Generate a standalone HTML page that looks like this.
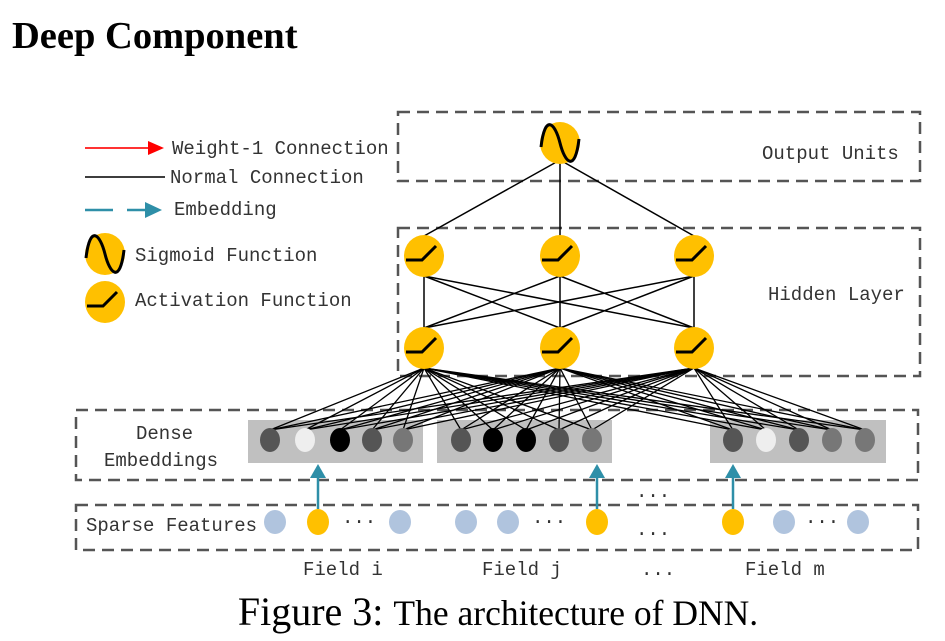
<!DOCTYPE html>
<html><head><meta charset="utf-8"><style>
html,body{margin:0;padding:0;background:#fff}
svg{display:block}
.m{font-family:"Liberation Mono",monospace;font-size:19px;fill:#333}
</style></head><body>
<svg width="945" height="641" viewBox="0 0 945 641" xmlns="http://www.w3.org/2000/svg">
<defs>
<g id="act"><ellipse cx="0" cy="0" rx="20" ry="21" fill="#FFC000"/><path d="M-18 4 H-2 L12 -10" stroke="#000" stroke-width="3" fill="none"/></g>
<g id="sig"><ellipse cx="0" cy="0" rx="20" ry="21" fill="#FFC000"/><path d="M-19 4 C-15 -30 -5 -20 0 0 C5 20 15 30 19 -4" stroke="#000" stroke-width="3" fill="none"/></g>
</defs>
<text x="12" y="48" font-family="Liberation Serif,serif" font-weight="bold" font-size="38.5">Deep Component</text>
<g fill="none" stroke="#555" stroke-width="2.5" stroke-dasharray="12,7">
<rect x="398" y="112" width="522" height="69"/>
<rect x="398" y="228" width="522" height="148"/>
<rect x="76" y="410" width="842" height="70"/>
<rect x="76" y="505" width="842" height="45"/>
</g>
<text class="m" x="762" y="159">Output Units</text>
<text class="m" x="768" y="300">Hidden Layer</text>
<text class="m" x="136" y="439">Dense</text>
<text class="m" x="104" y="466">Embeddings</text>
<text class="m" x="86" y="531">Sparse Features</text>
<rect x="248" y="420" width="175" height="43" fill="#c0c0c0"/>
<rect x="437" y="420" width="175" height="43" fill="#c0c0c0"/>
<rect x="710" y="420" width="176" height="43" fill="#c0c0c0"/>
<g stroke="#000" stroke-width="1.5">
<line x1="560" y1="160" x2="424" y2="236"/><line x1="560" y1="160" x2="560" y2="236"/><line x1="560" y1="160" x2="694" y2="236"/>
</g>
<g stroke="#000" stroke-width="1.5">
<line x1="424" y1="276" x2="424" y2="328"/><line x1="424" y1="276" x2="560" y2="328"/><line x1="424" y1="276" x2="694" y2="328"/>
<line x1="560" y1="276" x2="424" y2="328"/><line x1="560" y1="276" x2="560" y2="328"/><line x1="560" y1="276" x2="694" y2="328"/>
<line x1="694" y1="276" x2="424" y2="328"/><line x1="694" y1="276" x2="560" y2="328"/><line x1="694" y1="276" x2="694" y2="328"/>
</g>
<g stroke="#000" stroke-width="1.3">
<line x1="424" y1="368" x2="270" y2="430"/><line x1="424" y1="368" x2="305" y2="430"/><line x1="424" y1="368" x2="340" y2="430"/><line x1="424" y1="368" x2="372" y2="430"/><line x1="424" y1="368" x2="403" y2="430"/><line x1="424" y1="368" x2="461" y2="430"/><line x1="424" y1="368" x2="493" y2="430"/><line x1="424" y1="368" x2="526" y2="430"/><line x1="424" y1="368" x2="559" y2="430"/><line x1="424" y1="368" x2="592" y2="430"/><line x1="424" y1="368" x2="733" y2="430"/><line x1="424" y1="368" x2="766" y2="430"/><line x1="424" y1="368" x2="799" y2="430"/><line x1="424" y1="368" x2="832" y2="430"/><line x1="424" y1="368" x2="865" y2="430"/>
<line x1="560" y1="368" x2="270" y2="430"/><line x1="560" y1="368" x2="305" y2="430"/><line x1="560" y1="368" x2="340" y2="430"/><line x1="560" y1="368" x2="372" y2="430"/><line x1="560" y1="368" x2="403" y2="430"/><line x1="560" y1="368" x2="461" y2="430"/><line x1="560" y1="368" x2="493" y2="430"/><line x1="560" y1="368" x2="526" y2="430"/><line x1="560" y1="368" x2="559" y2="430"/><line x1="560" y1="368" x2="592" y2="430"/><line x1="560" y1="368" x2="733" y2="430"/><line x1="560" y1="368" x2="766" y2="430"/><line x1="560" y1="368" x2="799" y2="430"/><line x1="560" y1="368" x2="832" y2="430"/><line x1="560" y1="368" x2="865" y2="430"/>
<line x1="694" y1="368" x2="270" y2="430"/><line x1="694" y1="368" x2="305" y2="430"/><line x1="694" y1="368" x2="340" y2="430"/><line x1="694" y1="368" x2="372" y2="430"/><line x1="694" y1="368" x2="403" y2="430"/><line x1="694" y1="368" x2="461" y2="430"/><line x1="694" y1="368" x2="493" y2="430"/><line x1="694" y1="368" x2="526" y2="430"/><line x1="694" y1="368" x2="559" y2="430"/><line x1="694" y1="368" x2="592" y2="430"/><line x1="694" y1="368" x2="733" y2="430"/><line x1="694" y1="368" x2="766" y2="430"/><line x1="694" y1="368" x2="799" y2="430"/><line x1="694" y1="368" x2="832" y2="430"/><line x1="694" y1="368" x2="865" y2="430"/>
</g>
<use href="#sig" x="560" y="143"/>
<use href="#act" x="424" y="256"/><use href="#act" x="560" y="256"/><use href="#act" x="694" y="256"/>
<use href="#act" x="424" y="348"/><use href="#act" x="560" y="348"/><use href="#act" x="694" y="348"/>
<g>
<ellipse cx="270" cy="440" rx="10" ry="12" fill="#555"/><ellipse cx="305" cy="440" rx="10" ry="12" fill="#eee"/><ellipse cx="340" cy="440" rx="10" ry="12" fill="#000"/><ellipse cx="372" cy="440" rx="10" ry="12" fill="#555"/><ellipse cx="403" cy="440" rx="10" ry="12" fill="#777"/>
<ellipse cx="461" cy="440" rx="10" ry="12" fill="#555"/><ellipse cx="493" cy="440" rx="10" ry="12" fill="#000"/><ellipse cx="526" cy="440" rx="10" ry="12" fill="#000"/><ellipse cx="559" cy="440" rx="10" ry="12" fill="#555"/><ellipse cx="592" cy="440" rx="10" ry="12" fill="#777"/>
<ellipse cx="733" cy="440" rx="10" ry="12" fill="#555"/><ellipse cx="766" cy="440" rx="10" ry="12" fill="#eee"/><ellipse cx="799" cy="440" rx="10" ry="12" fill="#555"/><ellipse cx="832" cy="440" rx="10" ry="12" fill="#777"/><ellipse cx="865" cy="440" rx="10" ry="12" fill="#777"/>
</g>
<g fill="#b0c4de">
<ellipse cx="275" cy="522" rx="11" ry="12"/><ellipse cx="400" cy="522" rx="11" ry="12"/><ellipse cx="466" cy="522" rx="11" ry="12"/><ellipse cx="508" cy="522" rx="11" ry="12"/><ellipse cx="784" cy="522" rx="11" ry="12"/><ellipse cx="858" cy="522" rx="11" ry="12"/>
</g>
<g fill="#FFC000">
<ellipse cx="318" cy="522" rx="11" ry="13"/><ellipse cx="597" cy="522" rx="11" ry="13"/><ellipse cx="733" cy="522" rx="11" ry="13"/>
</g>
<g stroke="#2e8fa8" stroke-width="2.5" fill="#2e8fa8">
<line x1="318" y1="509" x2="318" y2="475"/><path d="M310 478 L318 464 L326 478 Z" stroke="none"/>
<line x1="597" y1="509" x2="597" y2="475"/><path d="M589 478 L597 464 L605 478 Z" stroke="none"/>
<line x1="733" y1="509" x2="733" y2="475"/><path d="M725 478 L733 464 L741 478 Z" stroke="none"/>
</g>
<g class="m">
<text x="342" y="527">···</text><text x="532" y="527">···</text><text x="805" y="527">···</text>
<text x="636" y="497">...</text><text x="636" y="535">...</text>
<text x="303" y="575">Field i</text><text x="482" y="575">Field j</text><text x="641" y="575">...</text><text x="745" y="575">Field m</text>
</g>
<line x1="85" y1="148" x2="150" y2="148" stroke="#f33" stroke-width="2"/><path d="M148 141 L164 148 L148 155 Z" fill="#f00"/>
<text class="m" x="172" y="154">Weight-1 Connection</text>
<line x1="85" y1="177" x2="165" y2="177" stroke="#222" stroke-width="1.8"/>
<text class="m" x="170" y="183">Normal Connection</text>
<line x1="85" y1="210" x2="113" y2="210" stroke="#2e8fa8" stroke-width="2.5"/><line x1="127" y1="210" x2="148" y2="210" stroke="#2e8fa8" stroke-width="2.5"/><path d="M145 202 L162 210 L145 218 Z" fill="#2e8fa8"/>
<text class="m" x="174" y="215">Embedding</text>
<use href="#sig" x="105" y="254"/>
<text class="m" x="135" y="261">Sigmoid Function</text>
<use href="#act" x="105" y="302"/>
<text class="m" x="135" y="306">Activation Function</text>
<text x="498" y="625" text-anchor="middle" font-family="Liberation Serif,serif" font-size="40">Figure 3: <tspan font-size="35.5">The architecture of DNN.</tspan></text>
</svg>
</body></html>
